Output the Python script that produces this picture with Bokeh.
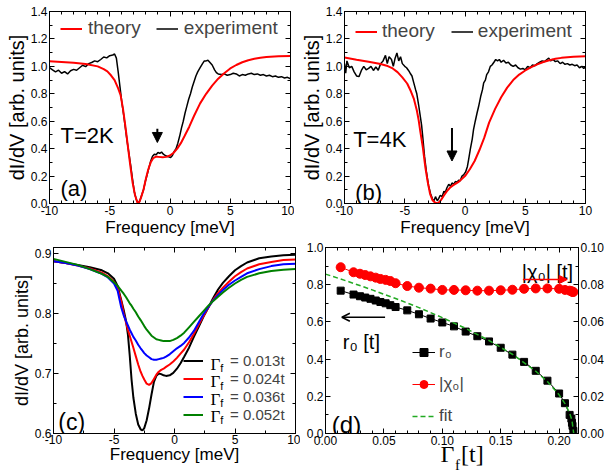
from bokeh.plotting import figure
from bokeh.layouts import row, column
from bokeh.models import (Range1d, LinearAxis, SingleIntervalTicker, FixedTicker,
                          NumeralTickFormatter, CustomJSTickFormatter, Legend, LegendItem,
                          Label, Arrow, NormalHead, OpenHead)
from bokeh.embed import file_html
from bokeh.resources import INLINE

SANS = "Liberation Sans"
SERIF = "Liberation Serif"

# ---------------- data: panel (a), T = 2K ----------------
fa_th = [-10, -9, -8, -7, -6, -5.5, -5.2, -4.9, -4.6, -4.3,
         -4.1, -3.9, -3.7, -3.5, -3.3, -3.1, -2.9, -2.7, -2.55, -2.4,
         -2.2, -2.0, -1.8, -1.6, -1.4, -1.2, -1.0, -0.6, -0.3, 0.0,
         0.3, 0.6, 0.9, 1.2, 1.6, 2.0, 2.5, 3.0, 3.5, 4.0,
         4.5, 5.0, 5.5, 6.0, 6.5, 7.0, 7.5, 8.0, 9.0, 10.0]
va_th = [1.037, 1.032, 1.026, 1.018, 1.0, 0.98, 0.964, 0.935, 0.90, 0.84,
         0.79, 0.69, 0.56, 0.42, 0.28, 0.15, 0.06, 0.005, 0.01, 0.045,
         0.10, 0.18, 0.25, 0.30, 0.33, 0.34, 0.34, 0.338, 0.34, 0.35,
         0.37, 0.40, 0.44, 0.49, 0.56, 0.64, 0.73, 0.80, 0.86, 0.91,
         0.95, 0.985, 1.01, 1.03, 1.045, 1.055, 1.063, 1.068, 1.073, 1.075]

fa_ex = [-10, -9.75, -9.5, -9.25, -9, -8.75, -8.5, -8.25, -8, -7.75,
         -7.5, -7.25, -7, -6.75, -6.5, -6.25, -6, -5.75, -5.5, -5.25,
         -5, -4.75,
         -4.6, -4.45, -4.3, -4.15, -4.0, -3.85, -3.7, -3.55, -3.4, -3.25,
         -3.1, -2.95, -2.8, -2.65, -2.5, -2.35, -2.2, -2.05, -1.9, -1.75,
         -1.6, -1.45, -1.3, -1.15, -1.0, -0.85, -0.7, -0.55, -0.4, -0.25,
         -0.1, 0.05, 0.2, 0.35, 0.5, 0.65, 0.8, 0.95, 1.1, 1.25,
         1.4, 1.55, 1.7, 1.85, 2.0, 2.15, 2.3,
         2.5, 2.7, 2.85, 3.0, 3.15, 3.3, 3.5, 3.7, 3.85, 4.0,
         4.25, 4.5, 4.75, 5.0, 5.25, 5.5, 5.75, 6.0, 6.25, 6.5,
         6.75, 7.0, 7.25, 7.5, 7.75, 8.0, 8.25, 8.5, 8.75, 9.0,
         9.25, 9.5, 9.75, 10.0]
va_ex = [0.99, 0.975, 0.96, 0.972, 0.95, 0.962, 0.945, 0.968, 0.978, 0.972,
         0.99, 1.008, 0.998, 1.02, 1.028, 1.04, 1.034, 1.05, 1.068, 1.062,
         1.078, 1.083,
         1.09, 1.06, 0.96, 0.85, 0.74, 0.65, 0.55, 0.45, 0.36, 0.27,
         0.17, 0.08, 0.03, 0.0, 0.02, 0.06, 0.10, 0.16, 0.21, 0.26,
         0.31, 0.345, 0.36, 0.355, 0.372, 0.365, 0.375, 0.36, 0.35, 0.345,
         0.34, 0.335, 0.35, 0.38, 0.40, 0.44, 0.49, 0.55, 0.60, 0.66,
         0.71, 0.76, 0.80, 0.85, 0.89, 0.93, 0.96,
         0.99, 1.02, 1.04, 1.04, 1.045, 1.03, 1.01, 0.975, 0.955, 0.945,
         0.94, 0.945, 0.935, 0.94, 0.95, 0.945, 0.93, 0.94, 0.935, 0.945,
         0.95, 0.94, 0.945, 0.935, 0.94, 0.93, 0.935, 0.925, 0.93, 0.92,
         0.925, 0.915, 0.92, 0.91]

# ---------------- data: panel (b), T = 4K ----------------
fb_th = [-10, -9, -8, -7, -6.5, -6, -5.6, -5.2, -4.8, -4.5,
         -4.25, -4.0, -3.85, -3.7, -3.5, -3.3, -3.1, -2.9, -2.7, -2.5,
         -2.25, -2.0, -1.75, -1.5, -1.25, -1.0, -0.5, 0.0, 0.4, 0.8,
         1.2, 1.6, 2.0, 2.5, 3.0, 3.5, 4.0, 4.5, 5.0, 5.5,
         6.0, 6.5, 7.0, 7.5, 8.0, 9.0, 10.0]
vb_th = [1.064, 1.048, 1.033, 1.017, 1.005, 0.985, 0.958, 0.92, 0.875, 0.82,
         0.765, 0.68, 0.61, 0.52, 0.41, 0.27, 0.16, 0.07, 0.025, 0.007,
         0.0, 0.025, 0.058, 0.09, 0.115, 0.132, 0.16, 0.2, 0.25, 0.31,
         0.39, 0.48, 0.59, 0.69, 0.775, 0.845, 0.9, 0.94, 0.97, 0.995,
         1.015, 1.032, 1.045, 1.055, 1.062, 1.07, 1.073]

fb_ex = [-10, -9.9, -9.8, -9.6, -9.4, -9.2, -9.0, -8.8, -8.6, -8.4,
         -8.2, -8.0, -7.8, -7.6, -7.4, -7.2, -7.0, -6.8, -6.6, -6.45,
         -6.3, -6.1, -5.95, -5.8, -5.65, -5.5, -5.35, -5.2, -5.0, -4.85,
         -4.7, -4.55, -4.4, -4.25, -4.1, -4.0, -3.85, -3.7, -3.6, -3.5,
         -3.36, -3.2, -3.02, -2.85, -2.7, -2.6, -2.45, -2.3, -2.19, -2.05,
         -1.9, -1.75, -1.64, -1.5, -1.35, -1.2, -1.08, -0.95, -0.8, -0.65,
         -0.53, -0.4, -0.25, -0.1, 0.05, 0.2, 0.3, 0.45, 0.6, 0.71,
         0.85, 1.0, 1.13, 1.3, 1.45, 1.55, 1.69, 1.8, 1.95, 2.1,
         2.24, 2.4, 2.55, 2.7, 2.85, 3.0, 3.2, 3.4, 3.6, 3.8,
         4.0, 4.2, 4.4, 4.6, 4.8, 5.0, 5.2, 5.4, 5.6, 5.8,
         6.0, 6.2, 6.4, 6.6, 6.8, 6.95, 7.1, 7.3, 7.5, 7.7,
         7.9, 8.1, 8.3, 8.5, 8.7, 8.9, 9.1, 9.3, 9.5, 9.7,
         9.85, 10.0]
vb_ex = [1.02, 0.95, 1.04, 0.99, 1.0, 0.96, 0.93, 0.925, 0.97, 1.0,
         0.975, 0.985, 1.0, 0.97, 0.995, 0.972, 1.02, 1.04, 1.08, 1.02,
         1.07, 1.05, 1.0, 1.06, 1.098, 1.04, 1.07, 1.02, 1.0, 0.99,
         0.972, 0.95, 0.93, 0.88, 0.83, 0.80, 0.72, 0.63, 0.57, 0.48,
         0.345, 0.23, 0.128, 0.07, 0.035, 0.015, 0.05, 0.02, 0.036, 0.06,
         0.05, 0.09, 0.08, 0.115, 0.14, 0.125, 0.15, 0.14, 0.16, 0.155,
         0.17, 0.165, 0.2, 0.21, 0.23, 0.27, 0.32, 0.40, 0.47, 0.54,
         0.6, 0.66, 0.707, 0.78, 0.83, 0.88, 0.9, 0.94, 0.96, 1.0,
         1.01, 1.03, 1.05, 1.04, 1.05, 1.03, 1.045, 1.025, 1.03, 1.01,
         1.0, 1.01, 0.99, 0.98, 0.985, 0.975, 1.0, 0.99, 1.01, 1.005,
         1.02, 1.03, 1.04, 1.035, 1.05, 1.06, 1.04, 1.05, 1.035, 1.04,
         1.02, 1.03, 1.015, 1.02, 1.01, 1.015, 1.005, 1.01, 0.99, 1.0,
         0.985, 0.995]

# ---------------- data: panel (c), four broadenings ----------------
fc = [-10, -9, -8, -7, -6, -5.5, -5, -4.7, -4.4, -4.2,
      -4.0, -3.85, -3.7, -3.55, -3.4, -3.2, -3.0, -2.8, -2.65, -2.5,
      -2.3, -2.1, -1.9, -1.7, -1.5, -1.3, -1.1, -0.9, -0.7, -0.4,
      -0.1, 0.2, 0.5, 0.8, 1.2, 1.6, 2.0, 2.4, 2.8, 3.2,
      3.6, 4.0, 4.5, 5.0, 5.5, 6.0, 7.0, 8.0, 9.0, 10.0]
c_013 = [0.887, 0.884, 0.881, 0.877, 0.872, 0.867, 0.858, 0.846, 0.822, 0.806,
         0.787, 0.765, 0.73, 0.69, 0.66, 0.633, 0.615, 0.607, 0.605, 0.609,
         0.622, 0.642, 0.665, 0.686, 0.696, 0.7, 0.699, 0.697, 0.696, 0.697,
         0.701, 0.708, 0.717, 0.728, 0.743, 0.761, 0.778, 0.795, 0.81, 0.826,
         0.84, 0.851, 0.862, 0.872, 0.879, 0.885, 0.892, 0.895, 0.897, 0.898]
c_024 = [0.887, 0.884, 0.880, 0.875, 0.868, 0.862, 0.853, 0.842, 0.82, 0.8,
         0.784, 0.773, 0.763, 0.753, 0.743, 0.729, 0.715, 0.703, 0.696, 0.69,
         0.683, 0.681, 0.684, 0.691, 0.698, 0.703, 0.706, 0.708, 0.711, 0.715,
         0.72, 0.726, 0.733, 0.74, 0.752, 0.766, 0.781, 0.796, 0.81, 0.823,
         0.834, 0.843, 0.853, 0.862, 0.869, 0.875, 0.882, 0.886, 0.889, 0.890]
c_036 = [0.887, 0.884, 0.880, 0.874, 0.866, 0.86, 0.85, 0.838, 0.81, 0.797,
         0.787, 0.78, 0.773, 0.767, 0.761, 0.755, 0.748, 0.742, 0.738, 0.734,
         0.73, 0.727, 0.724, 0.723, 0.723, 0.724, 0.725, 0.726, 0.728, 0.732,
         0.737, 0.742, 0.746, 0.751, 0.76, 0.771, 0.785, 0.799, 0.811, 0.822,
         0.831, 0.839, 0.848, 0.855, 0.861, 0.867, 0.874, 0.879, 0.882, 0.883]
c_052 = [0.891, 0.886, 0.881, 0.874, 0.866, 0.861, 0.852, 0.846, 0.838, 0.833,
         0.827, 0.822, 0.817, 0.813, 0.808, 0.802, 0.795, 0.789, 0.784, 0.779,
         0.773, 0.768, 0.763, 0.76, 0.757, 0.756, 0.755, 0.754, 0.754, 0.754,
         0.756, 0.759, 0.763, 0.768, 0.777, 0.786, 0.795, 0.804, 0.813, 0.821,
         0.828, 0.835, 0.843, 0.85, 0.856, 0.861, 0.867, 0.871, 0.873, 0.874]
c_labels = ["= 0.013t", "= 0.024t", "= 0.036t", "= 0.052t"]
c_colors = ["black", "#ff0000", "#0000ff", "#008000"]

# ---------------- data: panel (d) ----------------
gam = [0.013, 0.024, 0.0295, 0.034, 0.0385, 0.043, 0.047, 0.0515, 0.0555, 0.06,
       0.07, 0.08, 0.09, 0.10, 0.11, 0.12, 0.13, 0.14, 0.15, 0.16,
       0.17, 0.18, 0.19, 0.20, 0.205, 0.209, 0.2105, 0.211, 0.2115, 0.2122]
r0 = [0.768, 0.747, 0.738, 0.731, 0.724, 0.715, 0.707, 0.70, 0.69, 0.68,
      0.662, 0.641, 0.618, 0.597, 0.576, 0.548, 0.523, 0.495, 0.461, 0.424,
      0.385, 0.337, 0.284, 0.215, 0.163, 0.10, 0.08, 0.058, 0.041, 0.014]
chi0 = [0.0894, 0.0867, 0.0859, 0.0852, 0.0845, 0.0838, 0.0831, 0.0826, 0.082, 0.0808,
        0.0793, 0.0784, 0.0779, 0.0772, 0.0772, 0.077, 0.0768, 0.0768, 0.077, 0.0773,
        0.0778, 0.078, 0.078, 0.0778, 0.0772, 0.0768, 0.0765, 0.0763, 0.0762, 0.0761]
gam_fit = [0.0, 0.02, 0.04, 0.06, 0.08, 0.10, 0.12, 0.14, 0.16, 0.18,
           0.19, 0.20, 0.205, 0.209, 0.211, 0.2125]
r0_fit = [0.857, 0.816, 0.772, 0.726, 0.677, 0.623, 0.565, 0.500, 0.426, 0.335,
          0.279, 0.208, 0.161, 0.110, 0.072, 0.0]


# ---------------- helpers ----------------
def base_fig(xr, yr, w, h, bl, br, bt, bb, **kw):
    p = figure(width=w, height=h, min_border_left=bl, min_border_right=br,
               min_border_top=bt, min_border_bottom=bb, x_range=xr, y_range=yr,
               title=None, output_backend="svg", toolbar_location=None, **kw)
    p.xgrid.visible = False
    p.ygrid.visible = False
    p.outline_line_color = "black"
    p.outline_line_width = 1
    p.background_fill_color = "white"
    p.border_fill_color = "white"
    return p


def style(ax, interval, nminor, fmt=None):
    ax.ticker = SingleIntervalTicker(interval=interval, num_minor_ticks=nminor)
    ax.major_label_text_font = SANS
    ax.major_label_text_font_size = "12px"
    ax.major_label_text_color = "black"
    ax.axis_label_text_font = SANS
    ax.axis_label_text_font_style = "normal"
    ax.axis_label_text_color = "black"
    ax.axis_line_color = "black"
    ax.major_tick_line_color = "black"
    ax.minor_tick_line_color = "black"
    ax.major_tick_in = 5
    ax.major_tick_out = 0
    ax.minor_tick_in = 3
    ax.minor_tick_out = 0
    ax.major_label_standoff = 2
    ax.axis_label_standoff = 0
    if fmt:
        ax.formatter = NumeralTickFormatter(format=fmt)


def mirror(p, side, interval, nminor, **kw):
    ax = LinearAxis(**kw)
    style(ax, interval, nminor)
    ax.formatter = CustomJSTickFormatter(code="return ''")
    ax.major_label_text_font_size = "0px"
    ax.major_label_standoff = 0
    p.add_layout(ax, side)


def text_axis(p, ticks, code, font, size, standoff):
    # an extra, line-less axis whose tick labels carry the composite axis title
    ax = LinearAxis(ticker=FixedTicker(ticks=ticks, minor_ticks=[]))
    ax.formatter = CustomJSTickFormatter(code=code)
    ax.major_label_text_font = font
    ax.major_label_text_font_size = size
    ax.major_label_text_color = "black"
    ax.major_label_standoff = standoff
    ax.axis_line_color = None
    ax.major_tick_line_color = None
    ax.minor_tick_line_color = None
    ax.major_tick_in = 0
    ax.major_tick_out = 0
    ax.minor_tick_in = 0
    ax.minor_tick_out = 0
    p.add_layout(ax, "below")


def label(p, x, y, text, size, font=SANS, color="black", baseline="alphabetic", **kw):
    p.add_layout(Label(x=x, y=y, text=text, text_font=font, text_font_size=size,
                       text_color=color, text_baseline=baseline, **kw))


def spectrum_panel(w, bl, br, bt, bb, f_th, v_th, f_ex, v_ex, leg_loc, leg_standoff, leg_spacing):
    p = base_fig(Range1d(-10, 10), Range1d(0, 1.4001), w, 240, bl, br, bt, bb)
    style(p.xaxis[0], 5, 5, "0")
    style(p.yaxis[0], 0.2, 2, "0.0")
    p.xaxis[0].axis_label = "Frequency [meV]"
    p.xaxis[0].axis_label_text_font_size = "17px"
    p.yaxis[0].axis_label = "dI/dV [arb. units]"
    p.yaxis[0].axis_label_text_font_size = "20px"
    mirror(p, "above", 5, 5)
    mirror(p, "right", 0.2, 2)
    rex = p.line(f_ex, v_ex, line_color="black", line_width=1.5)
    rth = p.line(f_th, v_th, line_color="#ff0000", line_width=2)
    leg = Legend(items=[LegendItem(label="theory", renderers=[rth]),
                        LegendItem(label="experiment", renderers=[rex])],
                 orientation="horizontal", location=leg_loc,
                 label_text_font=SANS, label_text_font_size="19px",
                 glyph_width=22, glyph_height=21, label_height=21,
                 label_standoff=leg_standoff, spacing=leg_spacing, padding=0, margin=0,
                 border_line_color=None, background_fill_alpha=0)
    p.add_layout(leg)
    return p


# ---------------- panel (a) ----------------
pa = spectrum_panel(294, 49, 4, 10, 37, fa_th, va_th, fa_ex, va_ex, (11, 164), 6, 15)
label(pa, -9.09, 0.493, "T=2K", "22px")
label(pa, -9.09, 0.109, "(a)", "22px")
pa.add_layout(Arrow(end=NormalHead(size=10, fill_color="black", line_color="black"),
                    x_start=-1.05, y_start=0.545, x_end=-1.05, y_end=0.445,
                    line_color="black", line_width=2))

# ---------------- panel (b) ----------------
pb = spectrum_panel(317, 50, 26, 11, 36, fb_th, vb_th, fb_ex, vb_ex, (11, 161), 5, 16)
label(pb, -9.28, 0.466, "T=4K", "22px")
label(pb, -9.11, 0.082, "(b)", "22px")
pb.add_layout(Arrow(end=NormalHead(size=10, fill_color="black", line_color="black"),
                    x_start=-1.08, y_start=0.55, x_end=-1.08, y_end=0.31,
                    line_color="black", line_width=2))

# ---------------- panel (c) ----------------
pc = base_fig(Range1d(-10, 10), Range1d(0.6, 0.91), 300, 235, 53, 5, 4, 37)
style(pc.xaxis[0], 5, 2, "0")
style(pc.yaxis[0], 0.1, 2, "0.0")
pc.xaxis[0].axis_label = "Frequency [meV]"
pc.xaxis[0].axis_label_text_font_size = "17px"
pc.xaxis[0].major_label_standoff = 1
pc.xaxis[0].axis_label_standoff = -2
pc.yaxis[0].axis_label = "dI/dV [arb. units]"
pc.yaxis[0].axis_label_text_font_size = "18px"
mirror(pc, "above", 5, 2)
mirror(pc, "right", 0.1, 2)
c_series = [c_013, c_024, c_036, c_052]
c_items = []
for vals, col, lab in zip(c_series, c_colors, c_labels):
    r = pc.line(fc, vals, line_color=col, line_width=2)
    c_items.append(LegendItem(label=lab, renderers=[r]))
pc.add_layout(Legend(items=c_items, location=(130, 10),
                     label_text_font=SANS, label_text_font_size="15px",
                     glyph_width=20, glyph_height=17, label_height=17,
                     label_standoff=27, spacing=1, padding=0, margin=0,
                     border_line_color=None, background_fill_alpha=0))
row_y = [0.715, 0.6863, 0.6575, 0.6288]
for yy in row_y:
    label(pc, 2.97, yy, "Γ", "17px", font=SERIF, baseline="middle")
    label(pc, 3.79, yy - 0.0064, "f", "11px", baseline="middle")
label(pc, -9.61, 0.619, "(c)", "23px")

# ---------------- panel (d) ----------------
pd_ = base_fig(Range1d(0, 0.2166), Range1d(0, 1.0), 311, 235, 25, 33, 7, 39,
               extra_y_ranges={"chi": Range1d(0, 0.10001)})
style(pd_.xaxis[0], 0.05, 5, "0.00")
style(pd_.yaxis[0], 0.2, 2, "0.0")
ax_r = LinearAxis(y_range_name="chi")
style(ax_r, 0.02, 2, "0.00")
pd_.add_layout(ax_r, "right")
mirror(pd_, "above", 0.05, 5)
# x-axis title "Γf [t]" with a subscript f, built from two text-only axes
text_axis(pd_, [0.1045, 0.1258], "return tick < 0.115 ? 'Γ' : '[t]'", SERIF, "24px", -7)
text_axis(pd_, [0.1130], "return 'f'", SERIF, "15px", -13)

l_r0 = pd_.line(gam, r0, line_color="black", line_width=1)
s_r0 = pd_.scatter(gam, r0, marker="square", size=7, fill_color="black", line_color="black")
l_chi = pd_.line(gam, chi0, line_color="#ff0000", line_width=1, y_range_name="chi")
s_chi = pd_.scatter(gam, chi0, marker="circle", size=9, fill_color="#ff0000",
                    line_color="#ff0000", y_range_name="chi")
l_fit = pd_.line(gam_fit, r0_fit, line_color="#22aa22", line_width=1.5, line_dash="5 3")
pd_.add_layout(Legend(items=[LegendItem(label="r₀", renderers=[l_r0, s_r0]),
                             LegendItem(label="|χ₀|", renderers=[l_chi, s_chi]),
                             LegendItem(label="fit", renderers=[l_fit])],
                      location=(87, 7), label_text_font=SANS, label_text_font_size="17px",
                      glyph_width=23, glyph_height=20, label_height=20,
                      label_standoff=4, spacing=12, padding=0, margin=0,
                      border_line_color=None, background_fill_alpha=0))
label(pd_, 0.168, 0.87, "|χ₀| [t]", "20px")
pd_.add_layout(Arrow(end=NormalHead(size=8, fill_color="#ff0000", line_color="#ff0000"),
                     x_start=0.169, y_start=0.828, x_end=0.207, y_end=0.828,
                     line_color="#ff0000", line_width=1.5))
label(pd_, 0.0148, 0.49, "r₀ [t]", "20px")
pd_.add_layout(Arrow(end=OpenHead(size=8, line_color="black", line_width=1.5),
                     x_start=0.051, y_start=0.625, x_end=0.014, y_end=0.625,
                     line_color="black", line_width=1.5))
label(pd_, 0.0054, 0.048, "(d)", "24px")

layout = column(row(pa, pb), row(pc, pd_))
open("out.html", "w").write(file_html(layout, INLINE))
